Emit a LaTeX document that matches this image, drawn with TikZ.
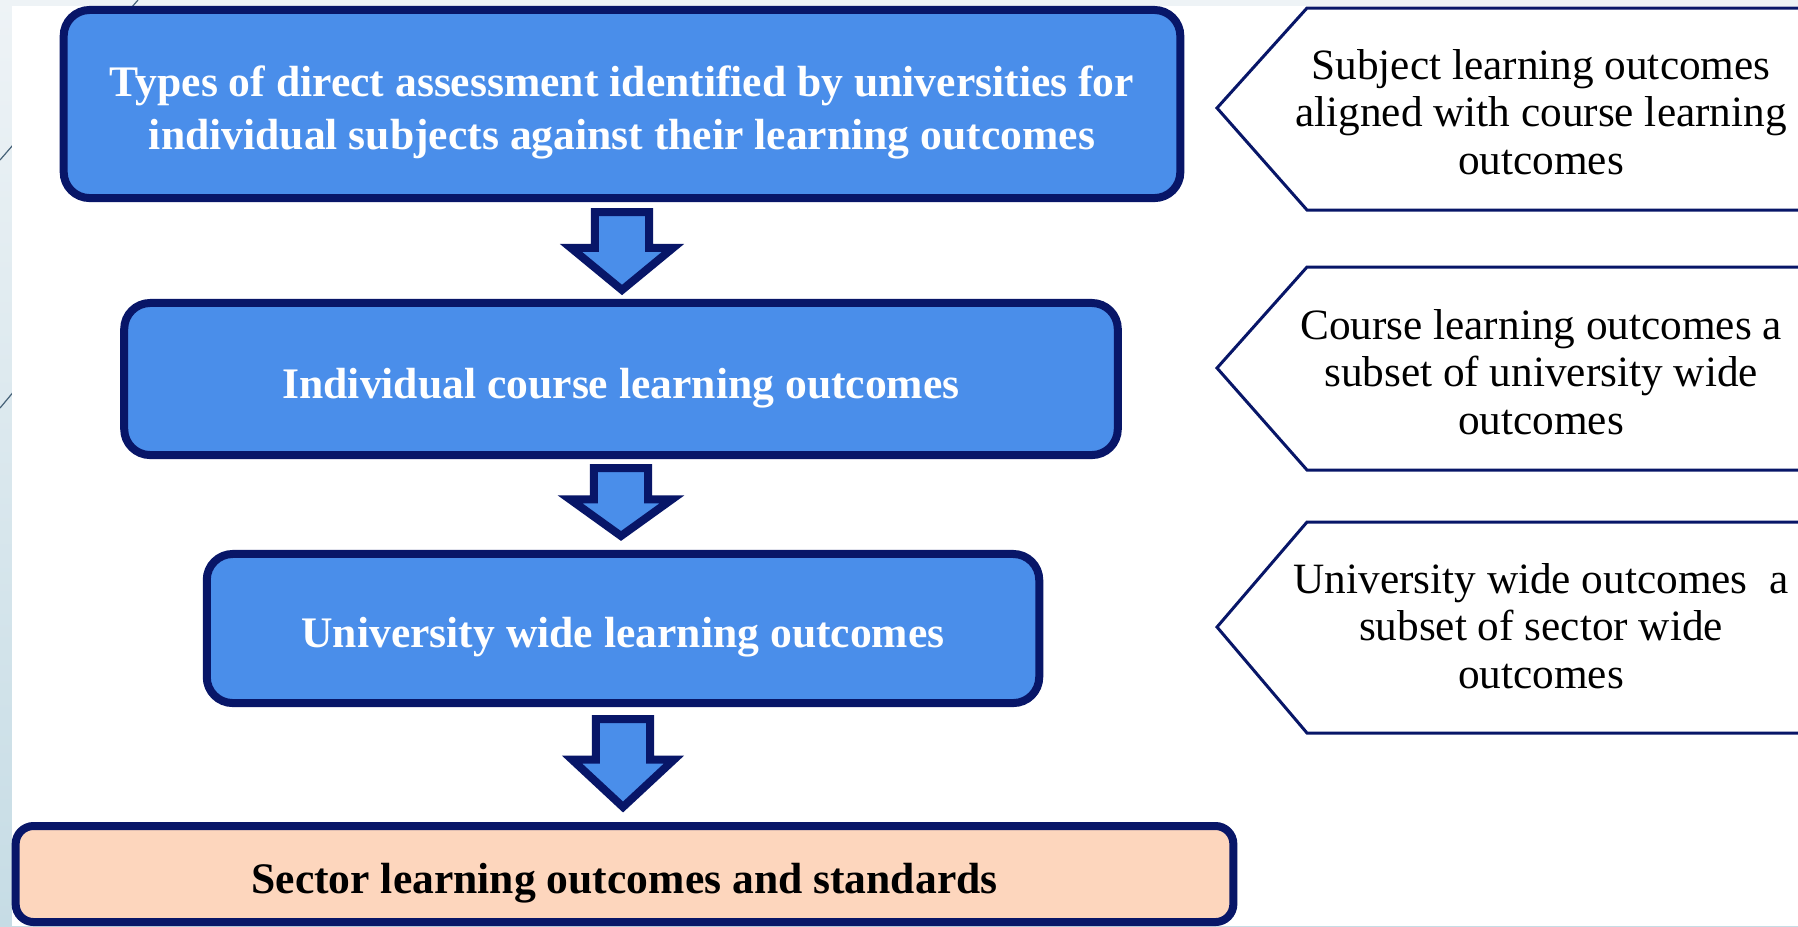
\documentclass[tikz,border=0pt]{standalone}
\usepackage{fontspec}
\setmainfont{Liberation Serif}
\usetikzlibrary{calc}

\definecolor{boxblue}{RGB}{74,142,234}
\definecolor{navy}{RGB}{8,22,104}
\definecolor{peach}{RGB}{253,214,189}
\definecolor{framelight}{RGB}{238,243,246}
\definecolor{framedark}{RGB}{198,220,229}
\definecolor{frameline}{RGB}{70,98,120}

% block arrow pointing down from one stage box to the next
% #1 upper node, #2 lower node, #3 gap below #1, #4 gap above #2
\newcommand\stagearrow[4]{%
  \draw[flowarrow] let \p1=(#1.south), \p2=(#2.north),
      \n1={\y1-#3}, \n2={\y2+#4}, \n3={\n1-0.46*(\n1-\n2)} in
    (\x1-0.27cm,\n1) -- (\x1+0.27cm,\n1) -- (\x1+0.27cm,\n3) --
    (\x1+0.51cm,\n3) -- (\x1,\n2) -- (\x1-0.51cm,\n3) --
    (\x1-0.27cm,\n3) -- cycle;}

% box label set a little below the geometric centre of its box
\newcommand\boxlabel[1]{%
  \raisebox{-0.085cm}[\height][\depth]{\begin{tabular}{@{}c@{}}#1\end{tabular}}}

\begin{document}
\begin{tikzpicture}[x=0.01cm,y=-0.01cm,
  stagebox/.style={draw=navy, line width=0.08cm, rounded corners=0.26cm,
    fill=boxblue, text=white, inner sep=0pt,
    font=\fontsize{12.4}{14.9}\selectfont\bfseries},
  goalbox/.style={stagebox, fill=peach, text=black, rounded corners=0.18cm},
  flowarrow/.style={draw=navy, line width=0.08cm, fill=boxblue, line join=miter},
  tagline/.style={draw=navy, line width=0.03cm, line join=miter},
  tagtext/.style={align=center, inner sep=0pt, text=black,
    font=\fontsize{12.3}{13.5}\selectfont}]

\useasboundingbox (0,0) rectangle (1798,926);

% slide frame: shaded margin, thin decorative lines, white content area
\shade[top color=framelight, bottom color=framedark] (0,0) rectangle (1798,926);
\draw[frameline, line width=0.012cm] (138,0) -- (0,160);
\draw[frameline, line width=0.012cm] (40,360) -- (0,408);
\fill[white] (12,6) rectangle (1798,926);

% stage boxes
\node[stagebox, minimum width=11.16cm, minimum height=1.88cm] (types) at (622,104)
  {\boxlabel{Types of direct assessment identified by universities for\\
   individual subjects against their learning outcomes}};
\node[stagebox, minimum width=9.93cm, minimum height=1.52cm] (course) at (621,379)
  {\boxlabel{Individual course learning outcomes}};
\node[stagebox, minimum width=8.32cm, minimum height=1.49cm] (univ) at (623,628.5)
  {\boxlabel{University wide learning outcomes}};
\node[goalbox, minimum width=12.17cm, minimum height=0.96cm] (sector) at (624.5,874)
  {\boxlabel{Sector learning outcomes and standards}};

% arrows between the stages
\stagearrow{types}{course}{0.10cm}{0.09cm}
\stagearrow{course}{univ}{0.09cm}{0.14cm}
\stagearrow{univ}{sector}{0.12cm}{0.15cm}

% side notes in left-pointing tags
\draw[tagline] (1800,8) -- (1307,8) -- (1217,108) -- (1307,210) -- (1800,210);
\node[tagtext] (subjnote) at (1541,112)
  {Subject learning outcomes\\aligned with course learning\\outcomes};

\draw[tagline] (1800,267) -- (1307,267) -- (1217,368) -- (1307,470) -- (1800,470);
\node[tagtext] (coursenote) at (1541,372)
  {Course learning outcomes a\\subset of university wide\\outcomes};

\draw[tagline] (1800,522) -- (1307,522) -- (1217,627) -- (1307,733) -- (1800,733);
\node[tagtext] (univnote) at (1541,626)
  {University wide outcomes\ \ a\\subset of sector wide\\outcomes};

\end{tikzpicture}
\end{document}
